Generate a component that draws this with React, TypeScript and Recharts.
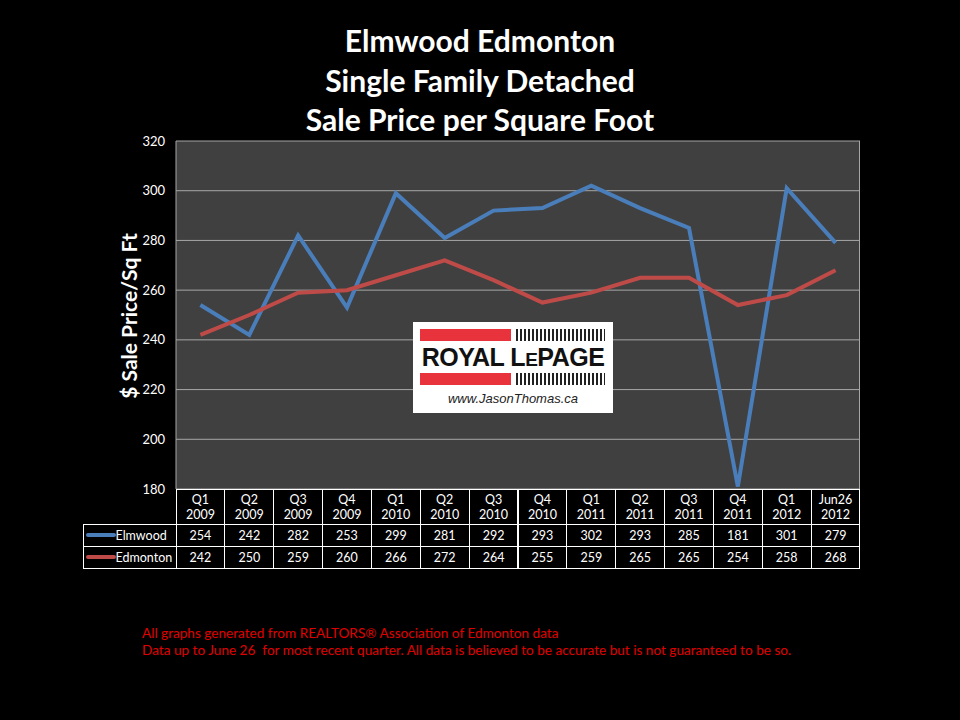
import { CartesianGrid, Line, LineChart, XAxis, YAxis } from "recharts"

const quarters = ['Q1', 'Q2', 'Q3', 'Q4', 'Q1', 'Q2', 'Q3', 'Q4', 'Q1', 'Q2', 'Q3', 'Q4', 'Q1', 'Jun26']
const years = ['2009', '2009', '2009', '2009', '2010', '2010', '2010', '2010', '2011', '2011', '2011', '2011', '2012', '2012']
const elmwood = [254, 242, 282, 253, 299, 281, 292, 293, 302, 293, 285, 181, 301, 279]
const edmonton = [242, 250, 259, 260, 266, 272, 264, 255, 259, 265, 265, 254, 258, 268]
const yTicks = [180, 200, 220, 240, 260, 280, 300, 320]

const titleLines = ['Elmwood Edmonton', 'Single Family Detached', 'Sale Price per Square Foot']
const footnotes = [
  'All graphs generated from REALTORS\u00ae Association of Edmonton data',
  'Data up to June 26  for most recent quarter. All data is believed to be accurate but is not guaranteed to be so.',
]

const BLUE = '#4a7ebb'
const RED = '#be4b48'
const FONT = 'Lato, "Open Sans", sans-serif'

const data = quarters.map((q, i) => ({
  name: `${q} ${years[i]}`,
  Elmwood: elmwood[i],
  Edmonton: edmonton[i],
}))

const series = [
  { name: 'Elmwood', values: elmwood, color: BLUE },
  { name: 'Edmonton', values: edmonton, color: RED },
]

// plot box
const PL = 176
const PR = 860
const PT = 141
const PB = 489
const colW = (PR - PL) / quarters.length

const DataTable = () => {
  const cell = (left: number, top: number, w: number, h: number, content: any, key: string, align = 'center') => (
    <div
      key={key}
      style={{
        position: 'absolute', left, top, width: w, height: h, boxSizing: 'border-box',
        border: '1px solid #fff', marginLeft: -0.5, marginTop: -0.5,
        display: 'flex', alignItems: 'center', justifyContent: align,
        color: '#fff', fontSize: 12.5, lineHeight: '15px', textAlign: 'center',
      }}
    >
      {content}
    </div>
  )
  const cells: any[] = []
  quarters.forEach((q, i) => {
    cells.push(cell(PL + i * colW, PB, colW + 1, 36, <span>{q}<br />{years[i]}</span>, `h${i}`))
  })
  series.forEach((s, r) => {
    const top = PB + 35 + r * 22
    cells.push(cell(83, top, PL - 83 + 1, 23, (
      <span style={{ display: 'flex', alignItems: 'center', width: '100%' }}>
        <span style={{ display: 'inline-block', width: 30, height: 4, borderRadius: 2, background: s.color, marginLeft: 2 }} />
        <span>{s.name}</span>
      </span>
    ), `l${r}`, 'flex-start'))
    s.values.forEach((v, i) => {
      cells.push(cell(PL + i * colW, top, colW + 1, 23, v, `c${r}-${i}`))
    })
  })
  return <>{cells}</>
}

const Logo = () => {
  const stripes = 'repeating-linear-gradient(90deg, #222 0px, #222 2px, #fff 2px, #fff 4px)'
  return (
    <div style={{ position: 'absolute', left: 413, top: 322, width: 200, height: 91, background: '#fff' }}>
      <div style={{ position: 'absolute', left: 7, top: 7, width: 91, height: 12, background: '#e8323c' }} />
      <div style={{ position: 'absolute', left: 103, top: 7, width: 89, height: 12, background: stripes }} />
      <div style={{ position: 'absolute', left: 7, top: 20, width: 186, textAlign: 'center', fontFamily: '"Liberation Sans", Arial, sans-serif', fontWeight: 700, fontSize: 25, lineHeight: '30px', color: '#111', letterSpacing: -0.5 }}>
        ROYAL L<span style={{ fontSize: 19 }}>E</span>PAGE
      </div>
      <div style={{ position: 'absolute', left: 7, top: 51, width: 91, height: 12, background: '#e8323c' }} />
      <div style={{ position: 'absolute', left: 103, top: 51, width: 89, height: 12, background: stripes }} />
      <div style={{ position: 'absolute', left: 0, top: 69, width: 200, textAlign: 'center', fontFamily: '"Liberation Sans", Arial, sans-serif', fontStyle: 'italic', fontSize: 13, color: '#222' }}>
        www.JasonThomas.ca
      </div>
    </div>
  )
}

const App = () => {
  return (
    <div style={{ position: 'absolute', left: 0, top: 0, width: 960, height: 720, background: '#000', fontFamily: FONT, overflow: 'hidden' }}>
      {titleLines.map((t, i) => (
        <div key={t} style={{ position: 'absolute', left: 0, width: 960, top: 21 + i * 39.5, textAlign: 'center', color: '#fff', fontWeight: 700, fontSize: 30, lineHeight: '38px' }}>
          {t}
        </div>
      ))}
      <div style={{ position: 'absolute', left: 128, top: 316, transform: 'translate(-50%, -50%) rotate(-90deg)', color: '#fff', fontWeight: 700, fontSize: 21, whiteSpace: 'nowrap' }}>
        $ Sale Price/Sq Ft
      </div>
      <div style={{ position: 'absolute', left: 0, top: 0 }}>
        <LineChart width={960} height={720} data={data} margin={{ top: PT, right: 960 - PR, bottom: 720 - PB, left: 0 }}>
          <CartesianGrid vertical={false} fill="#404040" stroke="#a6a6a6" strokeWidth={1} />
          <XAxis dataKey="name" hide padding={{ left: colW / 2, right: colW / 2 }} />
          <YAxis
            width={PL}
            domain={[180, 320]}
            ticks={yTicks}
            interval={0}
            tickLine={false}
            axisLine={{ stroke: '#a6a6a6' }}
            tickSize={6}
            tickMargin={5}
            tick={{ fill: '#fff', fontSize: 13, fontFamily: FONT }}
          />
          {series.map((s) => (
            <Line
              key={s.name}
              type="linear"
              dataKey={s.name}
              stroke={s.color}
              strokeWidth={4}
              dot={false}
              activeDot={false}
              isAnimationActive={false}
            />
          ))}
        </LineChart>
      </div>
      <div style={{ position: 'absolute', left: PR - 1, top: PT, width: 1, height: PB - PT, background: '#a6a6a6' }} />
      <Logo />
      <DataTable />
      <div style={{ position: 'absolute', left: 142, top: 625, color: '#e00000', fontSize: 13.6, lineHeight: '17px', fontFamily: FONT }}>
        {footnotes.map((f) => <div key={f} style={{ whiteSpace: 'pre', height: 17 }}>{f}</div>)}
      </div>
    </div>
  )
}

export default App
